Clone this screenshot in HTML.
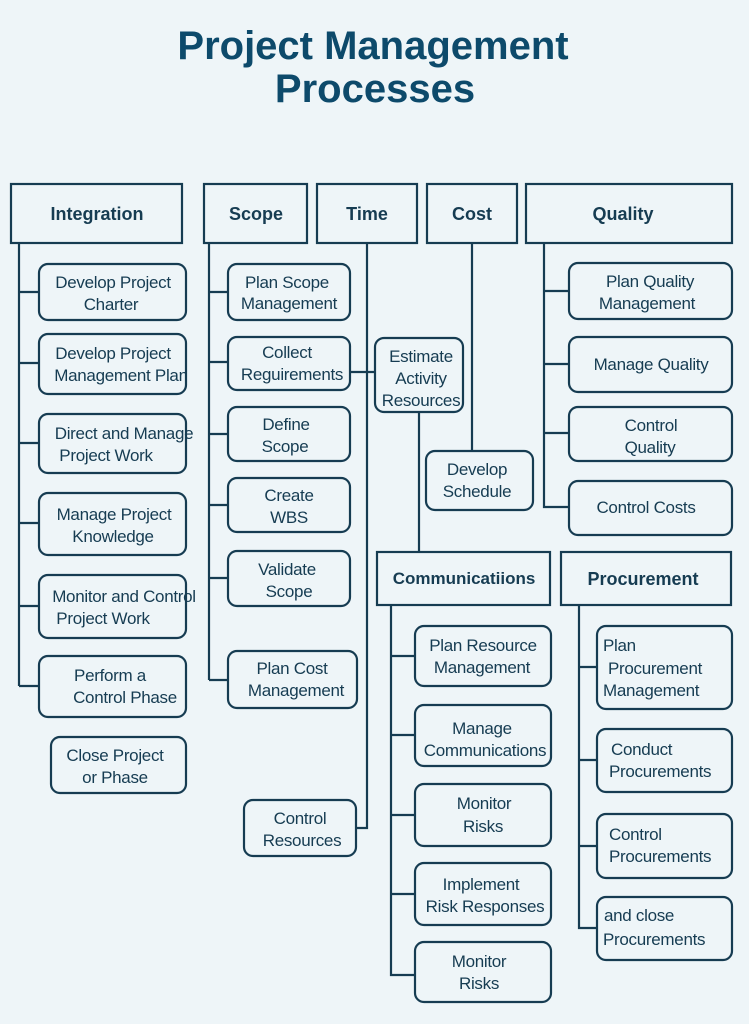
<!DOCTYPE html>
<html><head><meta charset="utf-8"><style>
html,body{margin:0;padding:0;background:#eef5f8;}
svg{display:block}
text{font-family:"Liberation Sans",sans-serif;fill:#163c52;font-size:17px;letter-spacing:-0.3px;}
.h{font-weight:bold;font-size:18px;letter-spacing:0;}
.t{font-weight:bold;font-size:40px;fill:#0d4a6b;letter-spacing:0;}
</style></head><body>
<svg width="749" height="1024" viewBox="0 0 749 1024" xmlns="http://www.w3.org/2000/svg">
<rect width="749" height="1024" fill="#eef5f8"/>
<text class="t" x="373" y="59" text-anchor="middle">Project Management</text>
<text class="t" x="375" y="102" text-anchor="middle">Processes</text>
<g fill="none" stroke="#163c52" stroke-width="2.2">
<rect x="11" y="184" width="171" height="59"/>
<rect x="204" y="184" width="103" height="59"/>
<rect x="317" y="184" width="100" height="59"/>
<rect x="427" y="184" width="90" height="59"/>
<rect x="526" y="184" width="206" height="59"/>
<rect x="377" y="552" width="173" height="53"/>
<rect x="561" y="552" width="170" height="53"/>
<path d="M19 243V686M19 292H39M19 363H39M19 443H39M19 523H39M19 606H39M19 686H39"/>
<path d="M209 243V680M209 292H228M209 362H228M209 434H228M209 505H228M209 578H228M209 680H228M350 372H375"/>
<path d="M367 243V828H356"/>
<path d="M419 412V552"/>
<path d="M472 243V451"/>
<path d="M544 243V507H569M544 291H569M544 364H569M544 433H569"/>
<path d="M391 605V975H415M391 656H415M391 735H415M391 815H415M391 894H415"/>
<path d="M579 605V928H597M579 667H597M579 760H597M579 846H597"/>
<rect x="39" y="264" width="147" height="56" rx="9"/>
<rect x="39" y="334" width="147" height="60" rx="9"/>
<rect x="39" y="414" width="147" height="59" rx="9"/>
<rect x="39" y="493" width="147" height="62" rx="9"/>
<rect x="39" y="575" width="147" height="63" rx="9"/>
<rect x="39" y="656" width="147" height="61" rx="9"/>
<rect x="51" y="737" width="135" height="56" rx="9"/>
<rect x="228" y="264" width="122" height="56" rx="9"/>
<rect x="228" y="337" width="122" height="53" rx="9"/>
<rect x="228" y="407" width="122" height="54" rx="9"/>
<rect x="228" y="478" width="122" height="54" rx="9"/>
<rect x="228" y="551" width="122" height="55" rx="9"/>
<rect x="228" y="651" width="129" height="57" rx="9"/>
<rect x="244" y="800" width="112" height="56" rx="9"/>
<rect x="375" y="338" width="88" height="74" rx="9"/>
<rect x="426" y="451" width="107" height="59" rx="9"/>
<rect x="569" y="263" width="163" height="56" rx="9"/>
<rect x="569" y="337" width="163" height="55" rx="9"/>
<rect x="569" y="407" width="163" height="54" rx="9"/>
<rect x="569" y="481" width="163" height="54" rx="9"/>
<rect x="415" y="626" width="136" height="60" rx="9"/>
<rect x="415" y="705" width="136" height="61" rx="9"/>
<rect x="415" y="784" width="136" height="62" rx="9"/>
<rect x="415" y="863" width="136" height="62" rx="9"/>
<rect x="415" y="942" width="136" height="60" rx="9"/>
<rect x="597" y="626" width="135" height="83" rx="9"/>
<rect x="597" y="729" width="135" height="63" rx="9"/>
<rect x="597" y="814" width="135" height="64" rx="9"/>
<rect x="597" y="897" width="135" height="63" rx="9"/>
</g>
<g text-anchor="middle">
<text class="h" x="97" y="220">Integration</text>
<text class="h" x="256" y="220">Scope</text>
<text class="h" x="367" y="220">Time</text>
<text class="h" x="472" y="220">Cost</text>
<text class="h" x="623" y="220">Quality</text>
<text class="h" x="464" y="584" style="font-size:17px">Communicatiions</text>
<text class="h" x="643" y="585">Procurement</text>

<text x="113" y="288">Develop Project</text><text x="111" y="310">Charter</text>
<text x="113" y="359">Develop Project</text><text x="121" y="381">Management Plan</text>
<text x="124" y="439">Direct and Manage</text><text x="106" y="461">Project Work</text>
<text x="114" y="520">Manage Project</text><text x="113" y="542">Knowledge</text>
<text x="124" y="602">Monitor and Control</text><text x="103" y="624">Project Work</text>
<text x="110" y="681">Perform a</text><text x="125" y="703">Control Phase</text>
<text x="115" y="761">Close Project</text><text x="115" y="783">or Phase</text>

<text x="287" y="288">Plan Scope</text><text x="289" y="309">Management</text>
<text x="287" y="358">Collect</text><text x="292" y="380">Reguirements</text>
<text x="286" y="430">Define</text><text x="285" y="452">Scope</text>
<text x="289" y="501">Create</text><text x="289" y="523">WBS</text>
<text x="287" y="575">Validate</text><text x="289" y="597">Scope</text>
<text x="292" y="674">Plan Cost</text><text x="296" y="696">Management</text>
<text x="300" y="824">Control</text><text x="302" y="846">Resources</text>

<text x="421" y="362">Estimate</text><text x="421" y="384">Activity</text><text x="421" y="406">Resources</text>
<text x="477" y="475">Develop</text><text x="477" y="497">Schedule</text>

<text x="650" y="287">Plan Quality</text><text x="647" y="309">Management</text>
<text x="651" y="370">Manage Quality</text>
<text x="651" y="431">Control</text><text x="650" y="453">Quality</text>
<text x="646" y="513">Control Costs</text>

<text x="483" y="651">Plan Resource</text><text x="482" y="673">Management</text>
<text x="482" y="734">Manage</text><text x="485" y="756">Communications</text>
<text x="484" y="809">Monitor</text><text x="483" y="832">Risks</text>
<text x="481" y="890">Implement</text><text x="485" y="912">Risk Responses</text>
<text x="479" y="967">Monitor</text><text x="479" y="989">Risks</text>
</g>
<g>
<text x="603" y="651">Plan</text><text x="608" y="674">Procurement</text><text x="603" y="696">Management</text>
<text x="611" y="755">Conduct</text><text x="609" y="777">Procurements</text>
<text x="609" y="840">Control</text><text x="609" y="862">Procurements</text>
<text x="604" y="921">and close</text><text x="603" y="945">Procurements</text>
</g>
</svg>
</body></html>
